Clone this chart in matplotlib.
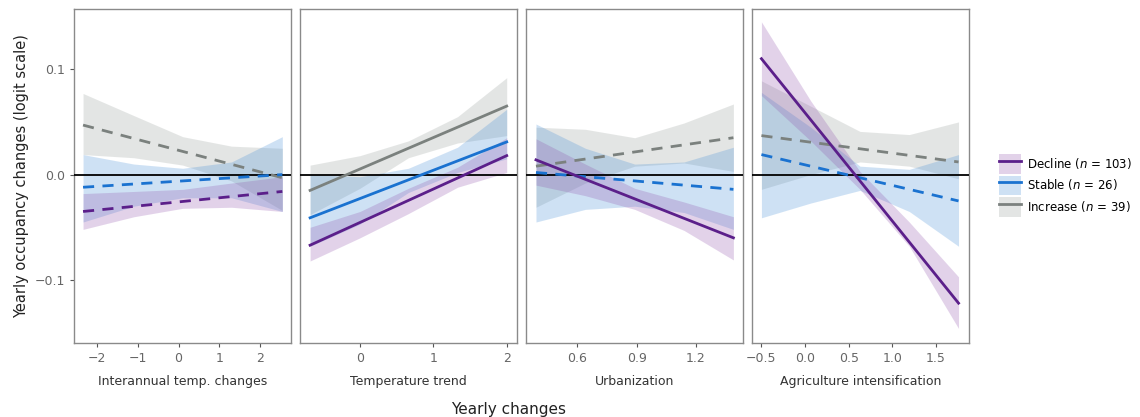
import matplotlib
matplotlib.use("Agg")
import matplotlib.pyplot as plt
from matplotlib.patches import Patch
from matplotlib.lines import Line2D

# Data
groups = ["Decline", "Stable", "Increase"]
group_n = [103, 26, 39]
panel_names = ["Interannual temp. changes", "Temperature trend", "Urbanization", "Agriculture intensification"]

# x positions where the confidence bands were read, per panel
band_x = [
    [-2.35, -1.1, 0.1, 1.3, 2.55],
    [-0.68, 0.0, 0.66, 1.33, 2.0],
    [0.39, 0.64, 0.89, 1.14, 1.39],
    [-0.5, 0.065, 0.63, 1.195, 1.76],
]

# fitted line end values [start, end] per panel
decline_line = [[-0.035, -0.016], [-0.067, 0.018], [0.014, -0.060], [0.110, -0.122]]
stable_line = [[-0.012, 0.000], [-0.041, 0.031], [0.002, -0.014], [0.019, -0.025]]
increase_line = [[0.047, -0.003], [-0.015, 0.065], [0.008, 0.035], [0.037, 0.012]]

# confidence bands
decline_lo = [[-0.052, -0.040, -0.032, -0.031, -0.035],
              [-0.082, -0.060, -0.037, -0.012, 0.002],
              [-0.010, -0.020, -0.033, -0.053, -0.081],
              [0.075, 0.032, -0.014, -0.068, -0.146]]
decline_hi = [[-0.018, -0.016, -0.014, -0.008, -0.002],
              [-0.050, -0.035, -0.013, 0.007, 0.035],
              [0.034, 0.010, -0.013, -0.026, -0.040],
              [0.145, 0.070, 0.003, -0.045, -0.097]]
stable_lo = [[-0.045, -0.030, -0.022, -0.022, -0.035],
             [-0.068, -0.047, -0.017, 0.002, 0.015],
             [-0.045, -0.033, -0.030, -0.036, -0.052],
             [-0.041, -0.027, -0.015, -0.035, -0.068]]
stable_hi = [[0.019, 0.010, 0.006, 0.012, 0.036],
             [0.000, -0.002, 0.006, 0.026, 0.062],
             [0.048, 0.025, 0.010, 0.012, 0.026],
             [0.078, 0.045, 0.008, 0.005, 0.019]]
increase_lo = [[0.019, 0.016, 0.009, -0.006, -0.034],
               [-0.038, -0.013, 0.016, 0.030, 0.037],
               [-0.031, -0.008, 0.008, 0.011, 0.003],
               [-0.014, 0.000, 0.012, 0.008, -0.004]]
increase_hi = [[0.077, 0.056, 0.036, 0.027, 0.025],
               [0.009, 0.018, 0.032, 0.055, 0.092],
               [0.045, 0.043, 0.035, 0.049, 0.067],
               [0.089, 0.065, 0.041, 0.038, 0.050]]

# significant effects drawn solid, others dashed
decline_sig = [False, True, True, True]
stable_sig = [False, True, False, False]
increase_sig = [False, True, False, False]

x_ticks = [[-2, -1, 0, 1, 2], [0, 1, 2], [0.6, 0.9, 1.2], [-0.5, 0.0, 0.5, 1.0, 1.5]]
x_ticklabels = [["\u22122", "\u22121", "0", "1", "2"], ["0", "1", "2"],
                ["0.6", "0.9", "1.2"], ["\u22120.5", "0.0", "0.5", "1.0", "1.5"]]
x_limits = [(-2.57, 2.77), (-0.82, 2.14), (0.34, 1.44), (-0.61, 1.88)]

line_colors = ["#5b1f8a", "#1a72d0", "#7b817e"]
band_colors = ["#8f4fab", "#3f8bd7", "#939b97"]

fig = plt.figure(figsize=(11.4, 4.17), dpi=100)
lefts = [0.065, 0.263, 0.4615, 0.6595]
width = 0.1905
axes = [fig.add_axes([l, 0.177, width, 0.801]) for l in lefts]

lines = [decline_line, stable_line, increase_line]
los = [decline_lo, stable_lo, increase_lo]
his = [decline_hi, stable_hi, increase_hi]
sigs = [decline_sig, stable_sig, increase_sig]

for p, ax in enumerate(axes):
    bx = band_x[p]
    # bands: increase at back, decline on top
    for g in [2, 1, 0]:
        ax.fill_between(bx, los[g][p], his[g][p], color=band_colors[g], alpha=0.25, lw=0)
    ax.axhline(0, color="black", lw=1.3, zorder=3)
    for g in [2, 1, 0]:
        ls = "-" if sigs[g][p] else (0, (4, 3))
        ax.plot([bx[0], bx[-1]], lines[g][p], color=line_colors[g], lw=2.0,
                ls=ls, zorder=4)
    ax.set_xlim(x_limits[p])
    ax.set_ylim(-0.16, 0.157)
    ax.set_xticks(x_ticks[p])
    ax.set_xticklabels(x_ticklabels[p])
    ax.set_xlabel(panel_names[p], fontsize=9, color="#333333", labelpad=7)
    ax.tick_params(axis="both", direction="out", length=3, color="#555555",
                   labelcolor="#666666", labelsize=9)
    for s in ax.spines.values():
        s.set_color("#8a8a8a")
        s.set_linewidth(1.0)
    if p == 0:
        ax.set_yticks([-0.1, 0.0, 0.1])
        ax.set_yticklabels(["\u22120.1", "0.0", "0.1"])
        ax.set_ylabel("Yearly occupancy changes (logit scale)", fontsize=10.5,
                      color="#222222")
    else:
        ax.set_yticks([])

fig.text(0.446, 0.018, "Yearly changes", ha="center", va="center", fontsize=11, color="#222222")

handles = []
labels = []
for g in range(3):
    patch = Patch(facecolor=band_colors[g], alpha=0.25, edgecolor="none")
    line = Line2D([], [], color=line_colors[g], lw=2)
    handles.append((patch, line))
    labels.append(f"{groups[g]} ($\\it{{n}}$ = {group_n[g]})")
fig.legend(handles, labels, loc="center left", bbox_to_anchor=(0.872, 0.555),
           frameon=False, fontsize=8.5, handlelength=1.9, handleheight=2.2,
           labelspacing=0.15, handletextpad=0.5, borderaxespad=0)

fig.savefig("out.png", dpi=100)
